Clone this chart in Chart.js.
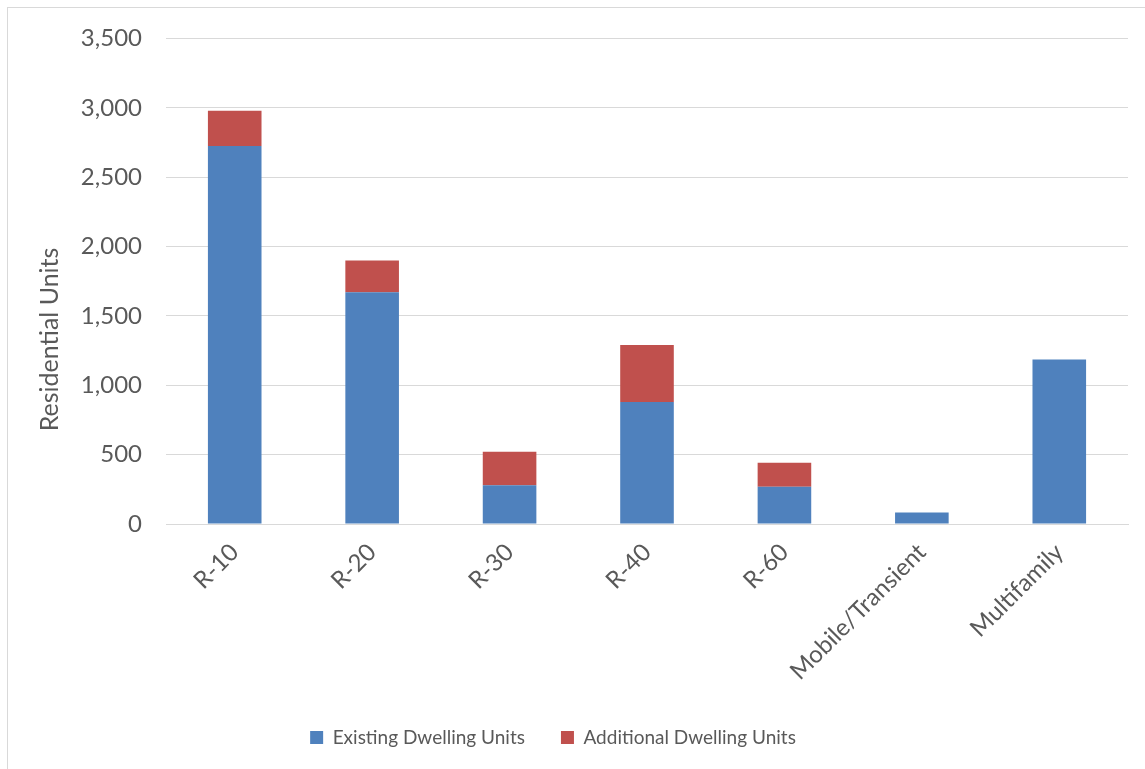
<!DOCTYPE html>
<html>
<head>
<meta charset="utf-8">
<script src="https://cdn.jsdelivr.net/npm/chart.js@4"></script>
<style>
  html, body { margin: 0; padding: 0; background: #fff; overflow: hidden; }
  #frame { position: absolute; left: 7px; top: 7px; width: 1160px; height: 780px; border: 1px solid #d9d9d9; box-sizing: border-box; }
  #wrap { position: absolute; left: 0; top: 0; width: 1145px; height: 769px; }
</style>
</head>
<body>
<div id="frame"></div>
<div id="wrap"><canvas id="c" width="1145" height="769"></canvas></div>
<script>
// Residential units by zoning district
const categories = ['R-10', 'R-20', 'R-30', 'R-40', 'R-60', 'Mobile/Transient', 'Multifamily'];
const existingUnits = [2725, 1670, 280, 880, 268, 83, 1186];
const additionalUnits = [253, 230, 240, 411, 173, 0, 0];
const yTicks = [0, 500, 1000, 1500, 2000, 2500, 3000, 3500];
const yTitle = 'Residential Units';

const textColor = '#595959';
const gridColor = '#d9d9d9';
const fontFamily = 'Lato, "Open Sans", sans-serif';

// Vertical axis title, centred over the plot plus the slanted category labels
const axisTitle = {
  id: 'axisTitle',
  afterDraw(chart) {
    const { ctx, chartArea } = chart;
    const cy = chartArea.top + (chartArea.bottom - chartArea.top) * 0.62;
    ctx.save();
    ctx.translate(50, cy);
    ctx.rotate(-Math.PI / 2);
    ctx.fillStyle = textColor;
    ctx.font = '25px ' + fontFamily;
    ctx.textAlign = 'center';
    ctx.textBaseline = 'middle';
    ctx.fillText(yTitle, 0, 0);
    ctx.restore();
  }
};

// Legend sits a little left of the canvas centre, under the middle of the plot
const legendShift = {
  id: 'legendShift',
  afterLayout(chart) {
    const lg = chart.legend;
    const dx = 553 - (lg.left + lg.right) / 2;
    lg.left += dx;
    lg.right += dx;
  }
};

new Chart(document.getElementById('c'), {
  type: 'bar',
  data: {
    labels: categories,
    datasets: [
      { label: 'Existing Dwelling Units', data: existingUnits, backgroundColor: '#4f81bd', barPercentage: 0.39, categoryPercentage: 1 },
      { label: 'Additional Dwelling Units', data: additionalUnits, backgroundColor: '#c0504d', barPercentage: 0.39, categoryPercentage: 1 }
    ]
  },
  plugins: [axisTitle, legendShift],
  options: {
    responsive: false,
    animation: false,
    layout: { padding: { left: 30, right: 17, top: 35, bottom: 12 } },
    plugins: {
      legend: {
        position: 'bottom',
        labels: { boxWidth: 13, boxHeight: 13, color: textColor, font: { family: fontFamily, size: 19 }, padding: 36 }
      },
      tooltip: { enabled: false }
    },
    scales: {
      x: {
        stacked: true,
        grid: { display: false, drawTicks: false },
        border: { color: gridColor },
        ticks: { color: textColor, font: { family: fontFamily, size: 24 }, minRotation: 45, maxRotation: 45, padding: 14 },
        afterFit: s => { s.height = 168; }
      },
      y: {
        stacked: true,
        min: 0, max: 3500,
        afterBuildTicks: s => { s.ticks = yTicks.map(v => ({ value: v })); },
        grid: { color: gridColor, drawTicks: false },
        border: { display: false },
        ticks: { color: textColor, font: { family: fontFamily, size: 24 }, padding: 24, callback: v => v.toLocaleString('en-US') },
        afterFit: s => { s.width = 136; }
      }
    }
  }
});
</script>
</body>
</html>
